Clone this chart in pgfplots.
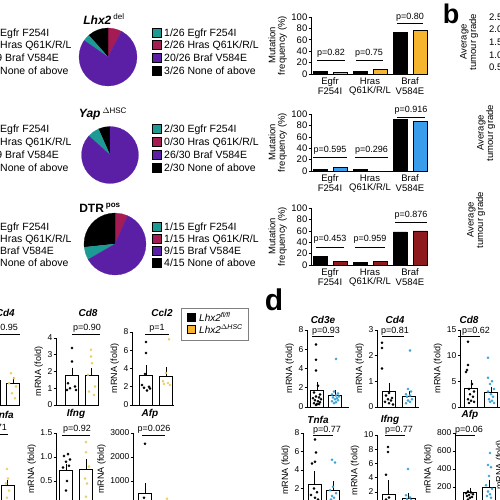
\documentclass[border=0pt]{standalone}
\usepackage{pgfplots}
\pgfplotsset{compat=1.18}
\usepgfplotslibrary{polar}
\usepackage{fontspec}
\setmainfont{Liberation Sans}
\newcommand\fs[1]{\fontsize{#1}{#1}\selectfont}
\definecolor{cteal}{HTML}{1E9A95}
\definecolor{cmag}{HTML}{A51C55}
\definecolor{cpur}{HTML}{5A1FA5}
\definecolor{cyel}{HTML}{F5B52E}
\definecolor{cblue}{HTML}{3A9DEB}
\definecolor{cred}{HTML}{8E1A1E}
\definecolor{dyel}{HTML}{EBD064}
\definecolor{dblue}{HTML}{3AA3D9}
\pgfplotsset{
  base/.style={scale only axis, axis lines=left, axis line style={-, line width=0.7pt},
    every tick/.style={black, line width=0.6pt}, tick align=outside, major tick length=2.5pt,
    ymin=0, xmin=0, clip=false, anchor=south west,
    /pgf/number format/assume math mode=true, scaled y ticks=false},
  mut/.style={base, width=117pt, height=57pt, xmax=117, ymax=100, ytick={0,20,40,60,80,100},
    xtick={19,59,99}, xticklabels={{Egfr\\F254I},{Hras\\Q61K/R/L},{Braf\\V584E}},
    x tick style={draw=none}, xticklabel style={align=center, font=\fs{9.5}, inner sep=1pt},
    yticklabel style={font=\fs{9.5}, inner sep=1pt},
    ylabel={Mutation\\frequency (\%)}, ylabel style={align=center, font=\fs{9.5}}},
  dotax/.style={base, width=42pt, xmax=42, xtick=\empty,
    yticklabel style={font=\fs{8.5}, inner sep=1pt},
    ylabel={mRNA (fold)}, ylabel style={font=\fs{9}}},
  wbar/.style={ybar, bar shift=0pt, bar width=13, fill=white, draw=black, line width=0.7pt,
    error bars/.cd, y dir=plus, y explicit, error bar style={black, line width=0.7pt},
    error mark options={mark size=2.5pt, black, line width=0.7pt}},
  mbar/.style={ybar, bar shift=0pt, bar width=14, draw=black, line width=0.6pt},
  bdot/.style={only marks, mark=*, mark size=1.1pt, black},
  ydot/.style={only marks, mark=*, mark size=1.1pt, color=dyel},
  cdot/.style={only marks, mark=*, mark size=1.1pt, color=dblue},
  pie/.style={scale only axis, hide axis, ymin=0, ymax=1, anchor=center, clip=false},
}
\begin{document}
\begin{tikzpicture}
\useasboundingbox (0,0) rectangle (500pt,-500pt);
\clip (0,0) rectangle (500pt,-500pt);

% ---------------- pies ----------------
\begin{polaraxis}[pie, at={(108pt,-57pt)}, width=58pt, height=58pt]
\addplot[fill=cmag, draw=cmag, line width=0.2pt] coordinates {(0,0) (62.31,1) (70,1) (80,1) (90,1)} --cycle;
\addplot[fill=black, draw=black, line width=0.2pt] coordinates {(0,0) (90,1) (100,1) (110,1) (120,1) (131.54,1)} --cycle;
\addplot[fill=cteal, draw=cteal, line width=0.2pt] coordinates {(0,0) (131.54,1) (138.5,1) (145.38,1)} --cycle;
\addplot[fill=cpur, draw=cpur, line width=0.2pt] coordinates {(0,0) (145.38,1) (150,1) (160,1) (170,1) (180,1) (190,1) (200,1) (210,1) (220,1) (230,1) (240,1) (250,1) (260,1) (270,1) (280,1) (290,1) (300,1) (310,1) (320,1) (330,1) (340,1) (350,1) (360,1) (370,1) (380,1) (390,1) (400,1) (410,1) (420,1) (422.31,1)} --cycle;
\end{polaraxis}
\begin{polaraxis}[pie, at={(110pt,-155pt)}, width=57pt, height=57pt]
\addplot[fill=black, draw=black, line width=0.2pt] coordinates {(0,0) (90,1) (102,1) (114,1)} --cycle;
\addplot[fill=cteal, draw=cteal, line width=0.2pt] coordinates {(0,0) (114,1) (126,1) (138,1)} --cycle;
\addplot[fill=cpur, draw=cpur, line width=0.2pt] coordinates {(0,0) (138,1) (150,1) (160,1) (170,1) (180,1) (190,1) (200,1) (210,1) (220,1) (230,1) (240,1) (250,1) (260,1) (270,1) (280,1) (290,1) (300,1) (310,1) (320,1) (330,1) (340,1) (350,1) (360,1) (370,1) (380,1) (390,1) (400,1) (410,1) (420,1) (430,1) (440,1) (450,1)} --cycle;
\end{polaraxis}
\begin{polaraxis}[pie, at={(115pt,-244pt)}, width=62pt, height=62pt]
\addplot[fill=cmag, draw=cmag, line width=0.2pt] coordinates {(0,0) (66,1) (78,1) (90,1)} --cycle;
\addplot[fill=black, draw=black, line width=0.2pt] coordinates {(0,0) (90,1) (100,1) (110,1) (120,1) (130,1) (140,1) (150,1) (160,1) (170,1) (180,1) (186,1)} --cycle;
\addplot[fill=cteal, draw=cteal, line width=0.2pt] coordinates {(0,0) (186,1) (198,1) (210,1)} --cycle;
\addplot[fill=cpur, draw=cpur, line width=0.2pt] coordinates {(0,0) (210,1) (220,1) (230,1) (240,1) (250,1) (260,1) (270,1) (280,1) (290,1) (300,1) (310,1) (320,1) (330,1) (340,1) (350,1) (360,1) (370,1) (380,1) (390,1) (400,1) (410,1) (420,1) (426,1)} --cycle;
\end{polaraxis}

% ---------------- mutation frequency bars ----------------
\begin{axis}[mut, at={(311pt,-74pt)}]
\addplot[mbar, fill=black] coordinates {(9,4) (49,4) (89,73)};
\addplot[mbar, fill=cyel] coordinates {(29,3) (69,8) (109,77)};
\end{axis}
\begin{axis}[mut, at={(311pt,-171pt)}]
\addplot[mbar, fill=black] coordinates {(9,3) (49,3) (89,90)};
\addplot[mbar, fill=cblue] coordinates {(29,7) (69,0) (109,87)};
\end{axis}
\begin{axis}[mut, at={(311pt,-265pt)}]
\addplot[mbar, fill=black] coordinates {(9,15) (49,5) (89,58)};
\addplot[mbar, fill=cred] coordinates {(29,7) (69,7) (109,60)};
\end{axis}

% ---------------- panel c ----------------
\begin{axis}[dotax, at={(-22pt,-405pt)}, height=67pt, ymax=4, ytick={0,1,2,3,4}]
\addplot[wbar] coordinates {(16,1.5) +- (0,0.2) (35,1.3) +- (0,0.2)};
\addplot[ydot] coordinates {(33,1.9) (36,1.6) (31,1.3) (38,1.1) (34,0.7) (37,0.4)};
\end{axis}
\begin{axis}[dotax, at={(56pt,-405pt)}, height=67pt, ymax=4, ytick={0,1,2,3,4}]
\addplot[wbar] coordinates {(16,1.8) +- (0,0.28) (35.5,1.75) +- (0,0.3)};
\addplot[bdot] coordinates {(16,3.4) (16,2.6) (12,1.3) (19,1.1) (14,1.0) (20,0.9) (11,0.9)};
\addplot[ydot] coordinates {(35,3.3) (35,2.9) (36,2.5) (32,1.8) (39,1.1) (33,0.8) (38,0.6)};
\end{axis}
\begin{axis}[dotax, at={(132pt,-405pt)}, height=73pt, ymax=8, ytick={0,2,4,6,8}]
\addplot[wbar] coordinates {(14,3.2) +- (0,0.9) (34,3.1) +- (0,0.8)};
\addplot[bdot] coordinates {(14,6.9) (14,5.7) (13,3.4) (10,2.2) (17,2.0) (12,1.9) (18,1.8) (15,1.6)};
\addplot[ydot] coordinates {(37,7.2) (34,3.5) (31,2.6) (36,2.4) (32,2.3) (38,2.2)};
\end{axis}
\begin{axis}[dotax, at={(-28pt,-505pt)}, height=72pt, ymax=3, ytick={0,1,2,3}]
\addplot[wbar] coordinates {(16,0.9) +- (0,0.1) (35.5,0.83) +- (0,0.1)};
\addplot[ydot] coordinates {(35,1.5) (36,1.1) (34,0.9) (37,0.6) (35,0.3)};
\end{axis}
\begin{axis}[dotax, at={(56pt,-505pt)}, height=72pt, ymax=1.5, ytick={0,0.5,1,1.5}, yticklabels={0,0.5,1.0,1.5}]
\addplot[wbar] coordinates {(10,0.72) +- (0,0.09) (30,0.74) +- (0,0.16)};
\addplot[bdot] coordinates {(12,1.06) (8,1.02) (14,0.95) (10,0.9) (13,0.82) (7,0.78) (11,0.5) (10,0.3)};
\addplot[ydot] coordinates {(30,1.31) (30,1.1) (33,0.8) (29,0.55) (31,0.45) (30,0.17)};
\end{axis}
\begin{axis}[dotax, at={(133pt,-505pt)}, height=72pt, ymax=3000, ytick={0,1000,2000,3000}, yticklabels={0,1000,2000,3000}]
\addplot[wbar] coordinates {(12,500) +- (0,300) (32,40) +- (0,30)};
\addplot[bdot] coordinates {(12,2550) (11,300) (14,150) (10,100) (13,50) (12,30)};
\addplot[ydot] coordinates {(34,260) (31,60) (33,30) (30,20)};
\end{axis}

% ---------------- panel d ----------------
\begin{axis}[dotax, at={(307pt,-407pt)}, height=77pt, ymax=8, ytick={0,2,4,6,8}]
\addplot[wbar] coordinates {(10,1.7) +- (0,0.6) (28,1.2) +- (0,0.3)};
\addplot[bdot] coordinates {(9,6.5) (9,4.9) (9,3.8) (11,2.2) (7,1.5) (13,1.3) (9,1.1) (12,1.0) (6,0.9) (14,0.8) (8,0.7) (11,0.6) (13,0.5) (7,0.4) (10,0.3) (12,0.3) (9,0.2)};
\addplot[cdot] coordinates {(29,5.0) (27,1.6) (31,1.4) (25,1.3) (29,1.2) (32,1.1) (26,1.0) (30,0.9) (28,0.8) (31,0.7) (25,0.6) (29,0.5) (27,0.4)};
\end{axis}
\begin{axis}[dotax, at={(377pt,-407pt)}, height=77pt, ymax=3, ytick={0,1,2,3}]
\addplot[wbar] coordinates {(12,0.62) +- (0,0.22) (32,0.42) +- (0,0.12)};
\addplot[bdot] coordinates {(5,2.5) (5,2.3) (5,1.5) (12,0.55) (9,0.45) (15,0.35) (11,0.3) (14,0.25) (8,0.2) (12,0.15) (16,0.1)};
\addplot[cdot] coordinates {(33,2.2) (31,0.7) (34,0.6) (29,0.5) (33,0.45) (30,0.4) (35,0.3) (31,0.25) (33,0.2) (29,0.15)};
\end{axis}
\begin{axis}[dotax, at={(460pt,-407pt)}, height=77pt, ymax=15, ytick={0,5,10,15}]
\addplot[wbar] coordinates {(11,3.7) +- (0,1.0) (31,2.9) +- (0,0.6)};
\addplot[bdot] coordinates {(8,12.7) (8,8.2) (7,7.2) (6,6.8) (12,4.5) (9,3.5) (14,3.0) (10,2.5) (13,2.0) (8,1.5) (11,1.2) (14,1.0) (9,0.8)};
\addplot[cdot] coordinates {(28,9.6) (28,5.7) (32,5.0) (30,4.5) (34,3.5) (28,3.0) (31,2.5) (33,2.0) (29,1.5) (32,1.2) (30,1.0) (34,0.8)};
\end{axis}
\begin{axis}[dotax, at={(303pt,-507pt)}, height=74pt, ymax=8, ytick={0,2,4,6,8}]
\addplot[wbar] coordinates {(11.5,2.4) +- (0,1.2) (30,1.8) +- (0,0.7)};
\addplot[bdot] coordinates {(12,7.3) (13,5.9) (12,4.9) (9,4.7) (11,2.0) (14,1.6) (8,1.3) (12,1.0) (15,0.8) (10,0.6) (13,0.4) (9,0.3)};
\addplot[cdot] coordinates {(29,5.1) (32,4.8) (30,2.2) (27,1.8) (33,1.5) (29,1.2) (31,1.0) (28,0.8) (32,0.5)};
\end{axis}
\begin{axis}[dotax, at={(377pt,-506pt)}, height=71pt, ymax=10, ytick={0,2,4,6,8,10}]
\addplot[wbar] coordinates {(11.5,1.7) +- (0,1.6) (31.5,1.1) +- (0,0.4)};
\addplot[bdot] coordinates {(11,8.3) (11,7.6) (9,4.4) (12,1.2) (9,0.9) (14,0.6) (10,0.4) (13,0.3) (11,0.2)};
\addplot[cdot] coordinates {(31,5.2) (29,1.5) (33,1.2) (30,1.0) (34,0.8) (28,0.6) (32,0.4) (30,0.2)};
\end{axis}
\begin{axis}[dotax, at={(455pt,-505pt)}, height=72pt, ymax=800, ytick={0,200,400,600,800}]
\addplot[wbar] coordinates {(15,140) +- (0,25) (34,200) +- (0,55)};
\addplot[bdot] coordinates {(13,150) (16,140) (11,130) (18,120) (14,110) (12,100) (17,90) (15,80) (13,60)};
\addplot[cdot] coordinates {(35,578) (33,444) (36,420) (34,322) (31,220) (37,180) (33,150) (35,120) (32,100) (36,80)};
\end{axis}

% ---------------- annotations ----------------
\begin{scope}[x=1pt, y=-1pt]
% left cut legend
\foreach \xx/\yy/\tx in {0/36.5/{Egfr F254I},0/48.5/{Hras Q61K/R/L},5/61.5/{\llap{19/29 }Braf V584E},0/74.5/{None of above},
  0/132.5/{Egfr F254I},0/145.5/{Hras Q61K/R/L},5/158.5/{\llap{24/29 }Braf V584E},0/171.5/{None of above},
  0/230.5/{Egfr F254I},0/242.5/{Hras Q61K/R/L},0/254.5/{Braf V584E},0/266.5/{None of above}}
  \node[anchor=base west, inner sep=0, font=\fs{10.5}] at (\xx,\yy) {\tx};
% pie titles
\node[font=\fs{12}\bfseries\itshape, inner sep=0] at (104,19) {Lhx2\,\textsuperscript{\normalfont\fs{8}del}};
\node[font=\fs{12}\bfseries\itshape, inner sep=0] at (103,114) {Yap\,\textsuperscript{\normalfont\fs{8}$\Delta$HSC}};
\node[font=\fs{12}\bfseries, inner sep=0] at (100,208) {DTR\,\textsuperscript{\fs{8}pos}};
% pie legends
\foreach \yy/\cc/\tx in {33/cteal/{1/26 Egfr F254I},45/cmag/{2/26 Hras Q61K/R/L},58/cpur/{20/26 Braf V584E},71/black/{3/26 None of above},
  129/cteal/{2/30 Egfr F254I},142/cmag/{0/30 Hras Q61K/R/L},155/cpur/{26/30 Braf V584E},168/black/{2/30 None of above},
  227/cteal/{1/15 Egfr F254I},239/cmag/{1/15 Hras Q61K/R/L},251/cpur/{9/15 Braf V584E},263/black/{4/15 None of above}}
{
  \draw[fill=\cc, line width=0.5pt] (152,\yy-4.5) rectangle (161,\yy+4.5);
  \node[anchor=base west, inner sep=0, font=\fs{10.5}] at (164,\yy+3.7) {\tx};
}
% p-values mutation charts
\foreach \cx/\ty/\xa/\xb/\ly/\tx in {331/53.5/317/345/60/{p=0.82},369/53.5/356/383/60/{p=0.75},410/17/397/423/23/{p=0.80},
  330/150.5/313/347/157/{p=0.595},371.5/150.5/355/388/157/{p=0.296},411/110/397/425/117/{p=0.916},
  330/239.5/316/344/247/{p=0.453},370/239.5/355/385/247/{p=0.959},411/215/395/427/222/{p=0.876}}
{
  \node[font=\fs{9}, inner sep=0] at (\cx,\ty) {\tx};
  \draw[line width=0.6pt] (\xa,\ly) -- (\xb,\ly);
}
% panel letters
\node[font=\fs{27}\bfseries, inner sep=0] at (451,14) {b};
\node[font=\fs{30}\bfseries, inner sep=0] at (274,300) {d};
% panel b partial
\node[rotate=90, align=center, font=\fs{9.5}, inner sep=0] at (469,42) {Average\\tumour grade};
\node[rotate=90, align=center, font=\fs{9.5}, inner sep=0] at (486,133) {Average\\tumour grade};
\node[rotate=90, align=center, font=\fs{9.5}, inner sep=0] at (476,220) {Average\\tumour grade};
\foreach \yy/\tx in {17/2.5,29/2.0,42/1.5,55/1.0,67/0.5}
  \node[anchor=west, font=\fs{9.5}, inner sep=0] at (489,\yy) {\tx};
% panel c titles / p
\node[anchor=east, font=\fs{10}\bfseries\itshape, inner sep=0] at (15,313) {Cd4};
\node[anchor=east, font=\fs{9}, inner sep=0] at (18,328) {p=0.95};
\draw[line width=0.6pt] (-10,334) -- (20,334);
\node[font=\fs{10}\bfseries\itshape, inner sep=0] at (88,313) {Cd8};
\node[font=\fs{9}, inner sep=0] at (87,328) {p=0.90};
\draw[line width=0.6pt] (72,334) -- (100,334);
\node[font=\fs{10}\bfseries\itshape, inner sep=0] at (162,313) {Ccl2};
\node[font=\fs{9}, inner sep=0] at (157,328) {p=1};
\draw[line width=0.6pt] (145,334) -- (169,334);
\node[anchor=east, font=\fs{10}\bfseries\itshape, inner sep=0] at (14,415) {Tnfa};
\node[anchor=east, font=\fs{9}, inner sep=0] at (7,428) {p=0.71};
\draw[line width=0.6pt] (-25,434) -- (8,434);
\node[font=\fs{10}\bfseries\itshape, inner sep=0] at (76,414) {Ifng};
\node[font=\fs{9}, inner sep=0] at (77,429) {p=0.92};
\draw[line width=0.6pt] (62,435) -- (90,435);
\node[font=\fs{10}\bfseries\itshape, inner sep=0] at (150,414) {Afp};
\node[font=\fs{9}, inner sep=0] at (154,429) {p=0.026};
\draw[line width=0.6pt] (142,435) -- (165,435);
% legend box c
\draw[gray, line width=0.8pt] (181,308) rectangle (248,340);
\draw[fill=black, line width=0.5pt] (187,313) rectangle (195,321);
\draw[fill=cyel, line width=0.5pt] (187,325) rectangle (195,333);
\node[anchor=west, font=\fs{10}\itshape, inner sep=0] at (199,317) {Lhx2\textsuperscript{\fs{7}fl/fl}};
\node[anchor=west, font=\fs{10}\itshape, inner sep=0] at (199,329) {Lhx2\textsuperscript{\fs{7}$\Delta$HSC}};
% panel d titles / p
\node[font=\fs{10}\bfseries\itshape, inner sep=0] at (323,320) {Cd3e};
\node[font=\fs{9}, inner sep=0] at (326,331) {p=0.93};
\draw[line width=0.6pt] (312,336) -- (334,336);
\node[font=\fs{10}\bfseries\itshape, inner sep=0] at (395,320) {Cd4};
\node[font=\fs{9}, inner sep=0] at (395,331) {p=0.81};
\draw[line width=0.6pt] (382,336) -- (404,336);
\node[font=\fs{10}\bfseries\itshape, inner sep=0] at (469,320) {Cd8};
\node[font=\fs{9}, inner sep=0] at (476,331) {p=0.62};
\draw[line width=0.6pt] (458,336) -- (480,336);
\node[font=\fs{10}\bfseries\itshape, inner sep=0] at (318,420) {Tnfa};
\node[font=\fs{9}, inner sep=0] at (327,430) {p=0.77};
\draw[line width=0.6pt] (313,435) -- (333,435);
\node[font=\fs{10}\bfseries\itshape, inner sep=0] at (390,420) {Ifng};
\node[font=\fs{9}, inner sep=0] at (399,430) {p=0.77};
\draw[line width=0.6pt] (385,435) -- (405,435);
\node[font=\fs{10}\bfseries\itshape, inner sep=0] at (470,415) {Afp};
\node[font=\fs{9}, inner sep=0] at (469,430) {p=0.06};
\draw[line width=0.6pt] (455,435) -- (475,435);
\node[rotate=90, font=\fs{9}, inner sep=0] at (500,465) {mRNA (fold)};
\end{scope}
\end{tikzpicture}
\end{document}
